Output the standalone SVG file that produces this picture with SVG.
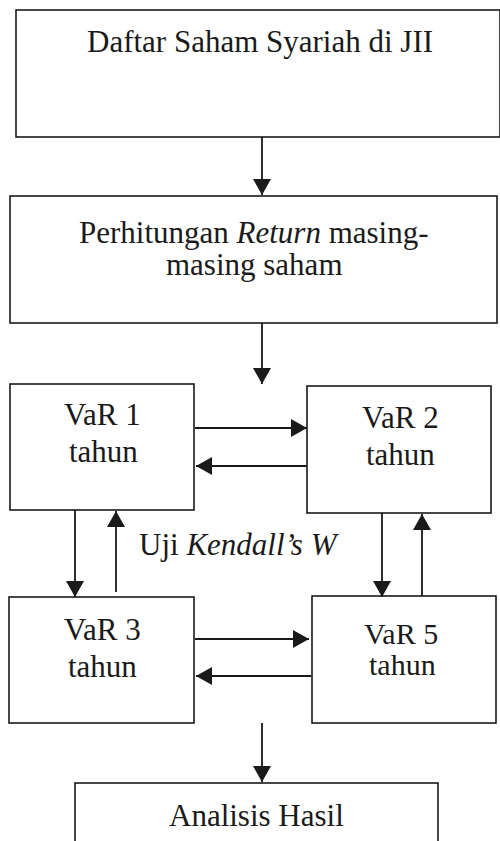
<svg xmlns="http://www.w3.org/2000/svg" width="500" height="841" viewBox="0 0 500 841">
  <defs>
    <marker id="head" markerUnits="userSpaceOnUse" markerWidth="18" markerHeight="18" refX="16" refY="9" orient="auto">
      <path d="M0,0 L16,9 L0,18 z" fill="#1a1a1a"/>
    </marker>
  </defs>
  <rect width="500" height="841" fill="#ffffff"/>

  <!-- boxes share stroke settings through the parent group -->
  <g id="nodes" stroke="#1a1a1a" stroke-width="1.6">
    <g id="n-daftar">
      <rect x="16" y="10" width="484" height="127" fill="#ffffff"/>
      <text x="87" y="52" font-family="Liberation Serif" font-size="31" fill="#1a1a1a" stroke="none">Daftar Saham Syariah di JII</text>
    </g>

    <g id="n-return">
      <rect x="10" y="196" width="487" height="127" fill="#ffffff"/>
      <text x="79" y="243" font-family="Liberation Serif" font-size="31" fill="#1a1a1a" stroke="none">Perhitungan <tspan font-style="italic">Return</tspan> masing-</text>
      <text x="166" y="275" font-family="Liberation Serif" font-size="31" fill="#1a1a1a" stroke="none">masing saham</text>
    </g>

    <g id="n-var1">
      <rect x="10" y="384" width="184" height="126" fill="#ffffff"/>
      <text x="64" y="425" font-family="Liberation Serif" font-size="31" fill="#1a1a1a" stroke="none">VaR 1</text>
      <text x="69" y="462" font-family="Liberation Serif" font-size="31" fill="#1a1a1a" stroke="none">tahun</text>
    </g>

    <g id="n-var2">
      <rect x="307" y="386" width="184" height="127" fill="#ffffff"/>
      <text x="362" y="428" font-family="Liberation Serif" font-size="31" fill="#1a1a1a" stroke="none">VaR 2</text>
      <text x="366" y="465" font-family="Liberation Serif" font-size="31" fill="#1a1a1a" stroke="none">tahun</text>
    </g>

    <g id="n-var3">
      <rect x="9" y="597" width="185" height="126" fill="#ffffff"/>
      <text x="64" y="640" font-family="Liberation Serif" font-size="31" fill="#1a1a1a" stroke="none">VaR 3</text>
      <text x="68" y="677" font-family="Liberation Serif" font-size="31" fill="#1a1a1a" stroke="none">tahun</text>
    </g>

    <g id="n-var5">
      <rect x="312" y="596" width="184" height="127" fill="#ffffff"/>
      <text x="364" y="644" font-family="Liberation Serif" font-size="30" fill="#1a1a1a" stroke="none">VaR 5</text>
      <text x="369" y="675" font-family="Liberation Serif" font-size="30" fill="#1a1a1a" stroke="none">tahun</text>
    </g>

    <g id="n-analisis">
      <rect x="75" y="783" width="363" height="70" fill="#ffffff"/>
      <text x="169" y="826" font-family="Liberation Serif" font-size="31" fill="#1a1a1a" stroke="none">Analisis Hasil</text>
    </g>
  </g>

  <!-- connectors -->
  <g id="edges" stroke="#1a1a1a" stroke-width="1.8" fill="none" marker-end="url(#head)">
    <line x1="262" y1="137" x2="262" y2="195"/>
    <line x1="262" y1="323" x2="262" y2="384"/>
    <line x1="195" y1="428" x2="307" y2="428"/>
    <line x1="307" y1="466" x2="196" y2="466"/>
    <line x1="75" y1="510" x2="75" y2="597"/>
    <line x1="116" y1="592" x2="116" y2="511"/>
    <line x1="382" y1="513" x2="382" y2="597"/>
    <line x1="422" y1="596" x2="422" y2="514"/>
    <line x1="195" y1="639" x2="309" y2="639"/>
    <line x1="311" y1="676" x2="196" y2="676"/>
    <line x1="262" y1="723" x2="262" y2="782"/>
  </g>
  <text x="139" y="555" font-family="Liberation Serif" font-size="31" fill="#1a1a1a">Uji <tspan font-style="italic">Kendall’s W</tspan></text>
</svg>
